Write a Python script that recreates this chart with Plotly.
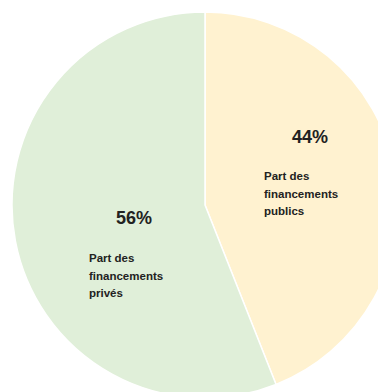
import plotly.graph_objects as go

labels = ["Part des financements publics", "Part des financements privés"]
values = [44, 56]
colors = ["rgb(255, 242, 208)", "rgb(224, 239, 217)"]
pct_text = ["44%", "56%"]
desc_lines = [["Part des", "financements", "publics"],
              ["Part des", "financements", "privés"]]

W, H = 400, 392
OFF = 8  # page margin around the plot div

fig = go.Figure()
fig.add_trace(go.Pie(
    labels=labels,
    values=values,
    sort=False,
    direction="clockwise",
    rotation=0,
    textinfo="none",
    hoverinfo="label+percent",
    marker=dict(colors=colors, line=dict(color="white", width=1.5)),
    domain=dict(x=[4 / W, 390 / W], y=[1 - 390 / H, 1 - 4 / H]),
    showlegend=False,
))

font = "Liberation Sans, Arial, sans-serif"
# big percentages (page pixel centres)
pct_pos = [(310, 137), (134, 218)]
# description block (left x, first line y)
desc_pos = [(262, 176), (87, 258)]
for i in range(2):
    px, py = pct_pos[i]
    fig.add_annotation(x=(px - OFF) / W, y=1 - (py - OFF) / H, xref="paper", yref="paper",
                       text="<b>%s</b>" % pct_text[i], showarrow=False,
                       xanchor="center", yanchor="middle",
                       font=dict(family=font, size=18, color="#222"))
    dx, dy = desc_pos[i]
    for j, line in enumerate(desc_lines[i]):
        fig.add_annotation(x=(dx - OFF) / W, y=1 - (dy - OFF + 17.5 * j) / H,
                           xref="paper", yref="paper",
                           text="<b>%s</b>" % line, showarrow=False,
                           xanchor="left", yanchor="middle",
                           font=dict(family=font, size=11.5, color="#222"))

fig.update_layout(
    width=W, height=H,
    margin=dict(l=0, r=0, t=0, b=0),
    paper_bgcolor="white",
    plot_bgcolor="white",
)
fig.write_html("out.html")
